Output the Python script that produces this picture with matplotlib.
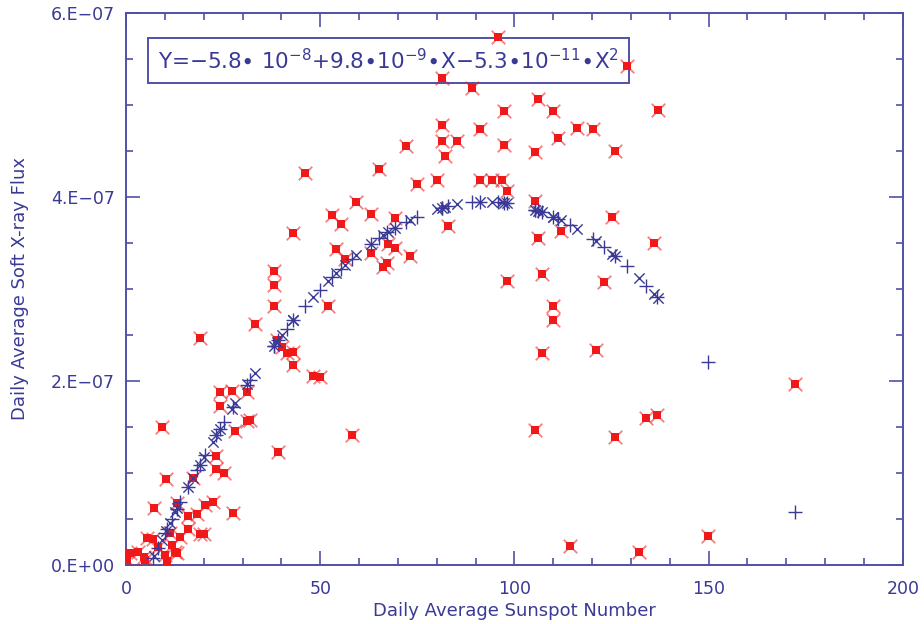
import matplotlib
matplotlib.use('Agg')
import matplotlib.pyplot as plt
import numpy as np
from matplotlib.ticker import MultipleLocator, FixedLocator, FixedFormatter

# red observations: sunspot number, soft x-ray flux (1e-7 units)
sunspot = [95.8, 128.9, 81.3, 89.0, 106.0, 110.0, 97.2, 137.0, 81.3, 91.1,
           116.2, 120.1, 111.1, 72.1, 81.3, 85.1, 97.2, 105.3, 125.9, 82.1,
           65.1, 46.1, 74.8, 80.0, 91.1, 94.1, 96.7, 98.2, 105.3, 59.2,
           63.0, 53.1, 55.3, 69.2, 125.1, 83.0, 112.1, 106.1, 136.0, 54.1,
           56.4, 63.0, 67.5, 69.2, 73.1, 66.2, 67.3, 98.1, 107.0, 123.0,
           52.1, 110.0, 110.0, 43.1, 38.1, 38.1, 38.1, 33.2, 19.0, 38.8,
           40.1, 41.4, 43.1, 43.1, 48.2, 49.9, 107.0, 121.0, 172.2, 136.6,
           134.0, 125.9, 58.1, 105.3, 132.1, 149.9, 114.3, 24.2, 27.2, 31.1,
           24.2, 31.9, 31.2, 9.2, 28.1, 39.2, 23.2, 23.2, 25.2, 10.3,
           17.2, 7.2, 13.1, 20.3, 22.3, 27.5, 18.2, 16.0, 16.0, 19.0,
           20.1, 13.9, 11.3, 5.5, 7.0, 1.0, 3.2, 4.5, 4.9, 10.0,
           10.5, 12.6, 13.2, 0.2, 8.2, 11.8]
flux = [5.74, 5.42, 5.29, 5.18, 5.07, 4.93, 4.93, 4.94, 4.78, 4.74,
        4.75, 4.74, 4.64, 4.55, 4.61, 4.61, 4.56, 4.49, 4.50, 4.44,
        4.30, 4.26, 4.14, 4.18, 4.18, 4.18, 4.18, 4.07, 3.96, 3.94,
        3.82, 3.80, 3.71, 3.77, 3.78, 3.68, 3.63, 3.55, 3.50, 3.43,
        3.33, 3.39, 3.49, 3.44, 3.36, 3.24, 3.28, 3.09, 3.16, 3.08,
        2.81, 2.82, 2.66, 3.61, 3.20, 3.04, 2.82, 2.62, 2.47, 2.45,
        2.37, 2.30, 2.32, 2.17, 2.05, 2.04, 2.30, 2.34, 1.97, 1.63,
        1.60, 1.39, 1.41, 1.47, 0.14, 0.31, 0.21, 1.88, 1.89, 1.88,
        1.73, 1.58, 1.57, 1.50, 1.46, 1.23, 1.18, 1.04, 1.00, 0.93,
        0.94, 0.62, 0.67, 0.65, 0.68, 0.57, 0.55, 0.53, 0.39, 0.34,
        0.34, 0.30, 0.35, 0.29, 0.28, 0.13, 0.14, 0.09, 0.05, 0.11,
        0.04, 0.14, 0.13, 0.05, 0.20, 0.22]

# fit coefficients as printed in the box
c0, c1, c2 = -5.8e-8, 9.8e-9, -5.3e-11

ytick_vals = [0, 2e-7, 4e-7, 6e-7]
ytick_labels = ['0.E+00', '2.E\u221207', '4.E\u221207', '6.E\u221207']

navy = '#3a3a96'
axcol = '#5050a8'
red = '#f01818'

plt.rcParams['mathtext.fontset'] = 'dejavusans'

x = np.array(sunspot)
y = np.array(flux) * 1e-7
fit = c0 + c1 * x + c2 * x**2

fig = plt.figure(figsize=(9.24, 6.24), dpi=100)
ax = fig.add_axes([0.1364, 0.0946, 0.8407, 0.8846])

# red observed points: square blob with small diagonal spikes
ax.scatter(x, y, marker='x', s=95, color=red, linewidths=1.3, alpha=0.55, zorder=3)
ax.scatter(x, y, marker='s', s=38, color=red, linewidths=0, zorder=3)

# fitted values, mixed + and x symbols along the curve
order = np.argsort(x)
xs, fs = x[order], fit[order]
keep = fs > 0
xs, fs = xs[keep], fs[keep]
far = xs > 140
plus = far | (np.arange(len(xs)) % 2 == 0)
ax.scatter(xs[plus], fs[plus], marker='+', s=90, color=navy, linewidths=1.0, zorder=4)
ax.scatter(xs[~plus], fs[~plus], marker='x', s=55, color=navy, linewidths=1.0, zorder=4)

ax.set_xlim(0, 200)
ax.set_ylim(0, 6e-7)
ax.xaxis.set_major_locator(MultipleLocator(50))
ax.xaxis.set_minor_locator(MultipleLocator(10))
ax.yaxis.set_major_locator(FixedLocator(ytick_vals))
ax.yaxis.set_major_formatter(FixedFormatter(ytick_labels))
ax.yaxis.set_minor_locator(MultipleLocator(0.5e-7))

for sp in ax.spines.values():
    sp.set_color(axcol)
    sp.set_linewidth(1.4)
ax.tick_params(which='both', direction='in', top=True, right=True,
               color=axcol, labelcolor=navy, labelsize=12.5, width=1.2)
ax.tick_params(which='major', length=10)
ax.tick_params(axis='x', which='major', pad=11)
ax.tick_params(axis='y', which='major', pad=8)
ax.tick_params(which='minor', length=5)

ax.set_xlabel('Daily Average Sunspot Number', color=navy, fontsize=13, labelpad=3)
ax.set_ylabel('Daily Average Soft X-ray Flux', color=navy, fontsize=13, labelpad=16)

eq = (r'Y=$-$5.8$\bullet$ 10$^{-8}$+9.8$\bullet$10$^{-9}$$\bullet$X$-$5.3$\bullet$10$^{-11}$$\bullet$X$^{2}$')
ax.text(0.041, 0.914, eq, transform=ax.transAxes, color=navy, fontsize=15.5,
        ha='left', va='center', zorder=1,
        bbox=dict(boxstyle='square,pad=0.45', fc='white', ec=axcol, lw=1.4))

fig.savefig('out.png', dpi=100)
